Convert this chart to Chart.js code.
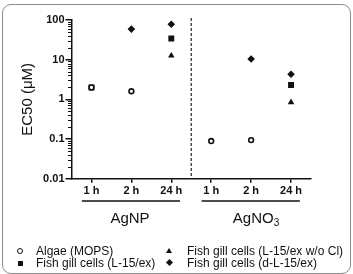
<!DOCTYPE html>
<html>
<head>
<meta charset="utf-8">
<script src="https://cdn.jsdelivr.net/npm/chart.js@4/dist/chart.umd.min.js"></script>
<style>
    body { margin: 0; background: #fff; font-family: 'Liberation Sans', Arial, sans-serif; color: #111; }
    #wrap { position: relative; width: 353px; height: 274px; overflow: hidden; }
    #frame { position: absolute; left: 2px; top: 4px; width: 347px; height: 268px; border: 1px solid #8c8c8c; border-radius: 9px; }
    canvas { position: absolute; left: 0; top: 0; }
    .grp { position: absolute; font-size: 15px; top: 209px; transform: translateX(-50%); white-space: nowrap; }
    .grp sub { font-size: 10px; vertical-align: -3px; line-height: 0; }
    .leg { position: absolute; font-size: 12px; white-space: nowrap; line-height: 14px; }
    .sym { position: absolute; }
    .circ { width: 4px; height: 4px; border: 1.6px solid #111; border-radius: 50%; background: #fff; }
    .sq { width: 5px; height: 5px; background: #111; }
    .tri { width: 0; height: 0; border-left: 3px solid transparent; border-right: 3px solid transparent; border-bottom: 5px solid #111; }
    .dia { width: 5px; height: 5px; background: #111; transform: rotate(45deg); }
</style>
</head>
<body>
<div id="wrap">
    <div id="frame"></div>
    <canvas id="chart" width="353" height="274"></canvas>
    <div class="grp" style="left:130px">AgNP</div>
    <div class="grp" style="left:256px">AgNO<sub>3</sub></div>

    <span class="sym circ" style="left:16.5px; top:248px"></span>
    <div class="leg" style="left:36px; top:244px">Algae (MOPS)</div>
    <span class="sym sq" style="left:17.5px; top:261px"></span>
    <div class="leg" style="left:36px; top:256px">Fish gill cells (L-15/ex)</div>
    <span class="sym tri" style="left:166px; top:248px"></span>
    <div class="leg" style="left:187px; top:244px">Fish gill cells (L-15/ex w/o Cl)</div>
    <span class="sym dia" style="left:167px; top:260px"></span>
    <div class="leg" style="left:187px; top:256px">Fish gill cells (d-L-15/ex)</div>
</div>
<script>
const xPos = [1, 2, 3, 4, 5, 6];
const xLabels = ['1 h', '2 h', '24 h', '1 h', '2 h', '24 h'];
const groupCenters = [2, 5];
const groupDivider = 3.5;

const yTicks = [0.01, 0.1, 1, 10, 100];
const yTickLabels = ['0.01', '0.1', '1', '10', '100'];

const algae = [2.0, 1.6, null, 0.089, 0.094, null];
const gillL15 = [2.0, null, 34, null, null, 2.3];
const gillNoCl = [null, null, 12.6, null, null, 0.84];
const gillDL15 = [null, 59, 78, null, 10.4, 4.3];

function toPoints(values) {
    const pts = [];
    values.forEach((v, i) => {
        if (v !== null) pts.push({ x: xPos[i], y: v });
    });
    return pts;
}

Chart.defaults.font.family = "'Liberation Sans', Arial, sans-serif";
Chart.defaults.color = '#111';

const extras = {
    id: 'extras',
    afterDraw(chart) {
        const ctx = chart.ctx;
        const x = chart.scales.x;
        const y = chart.scales.y;
        const area = chart.chartArea;
        ctx.save();

        // minor ticks on the log axis
        ctx.strokeStyle = '#111';
        ctx.lineWidth = 1;
        for (let e = -2; e < 2; e++) {
            for (let m = 2; m < 10; m++) {
                const py = Math.round(y.getPixelForValue(m * Math.pow(10, e))) + 0.5;
                ctx.beginPath();
                ctx.moveTo(area.left - 3.5, py);
                ctx.lineTo(area.left, py);
                ctx.stroke();
            }
        }

        // dashed divider
        const dx = x.getPixelForValue(groupDivider);
        ctx.setLineDash([3, 2]);
        ctx.lineWidth = 1.3;
        ctx.strokeStyle = '#333';
        ctx.beginPath();
        ctx.moveTo(dx, area.top - 2);
        ctx.lineTo(dx, area.bottom);
        ctx.stroke();
        ctx.setLineDash([]);

        // group underlines
        ctx.lineWidth = 1.5;
        ctx.strokeStyle = '#111';
        groupCenters.forEach(c => {
            const l = x.getPixelForValue(c - 1.24);
            const r = x.getPixelForValue(c + 1.22);
            ctx.beginPath();
            ctx.moveTo(l, 201);
            ctx.lineTo(r, 201);
            ctx.stroke();
        });
        ctx.restore();
    }
};

new Chart(document.getElementById('chart'), {
    type: 'scatter',
    data: {
        datasets: [
            { label: 'Algae (MOPS)', data: toPoints(algae), pointStyle: 'circle', radius: 2.4,
              backgroundColor: '#fff', borderColor: '#111', borderWidth: 1.6 },
            { label: 'Fish gill cells (L-15/ex)', data: toPoints(gillL15), pointStyle: 'rect', radius: 4.2,
              backgroundColor: '#111', borderColor: '#111', borderWidth: 0 },
            { label: 'Fish gill cells (L-15/ex w/o Cl)', data: toPoints(gillNoCl), pointStyle: 'triangle', radius: 3.8,
              backgroundColor: '#111', borderColor: '#111', borderWidth: 0 },
            { label: 'Fish gill cells (d-L-15/ex)', data: toPoints(gillDL15), pointStyle: 'rectRot', radius: 3.8,
              backgroundColor: '#111', borderColor: '#111', borderWidth: 0 }
        ]
    },
    options: {
        responsive: false,
        animation: false,
        layout: { padding: { left: 15, right: 42, top: 20, bottom: 75.3 } },
        plugins: { legend: { display: false }, tooltip: { enabled: false } },
        scales: {
            x: {
                type: 'linear',
                min: 0.5,
                max: 6.5,
                afterBuildTicks: s => { s.ticks = xPos.map(v => ({ value: v })); },
                afterFit: s => { s.height = 20; },
                ticks: {
                    autoSkip: false,
                    maxRotation: 0,
                    padding: 2,
                    font: { size: 11, weight: 'bold' },
                    callback: v => xLabels[xPos.indexOf(v)]
                },
                grid: { drawOnChartArea: false, tickLength: 4, color: '#111', lineWidth: 1.5 },
                border: { color: '#111', width: 1.5 }
            },
            y: {
                type: 'logarithmic',
                min: 0.01,
                max: 100,
                afterBuildTicks: s => { s.ticks = yTicks.map(v => ({ value: v })); },
                afterFit: s => { s.width = 56.5; },
                ticks: {
                    autoSkip: false,
                    padding: 1,
                    font: { size: 11, weight: 'bold' },
                    callback: v => yTickLabels[yTicks.indexOf(v)]
                },
                grid: { drawOnChartArea: false, tickLength: 6, color: '#111', lineWidth: 1.5 },
                border: { color: '#111', width: 1.5 },
                title: { display: true, text: 'EC50 (μM)', font: { size: 15 }, padding: { top: 4, bottom: 0 } }
            }
        }
    },
    plugins: [extras]
});
</script>
</body>
</html>
